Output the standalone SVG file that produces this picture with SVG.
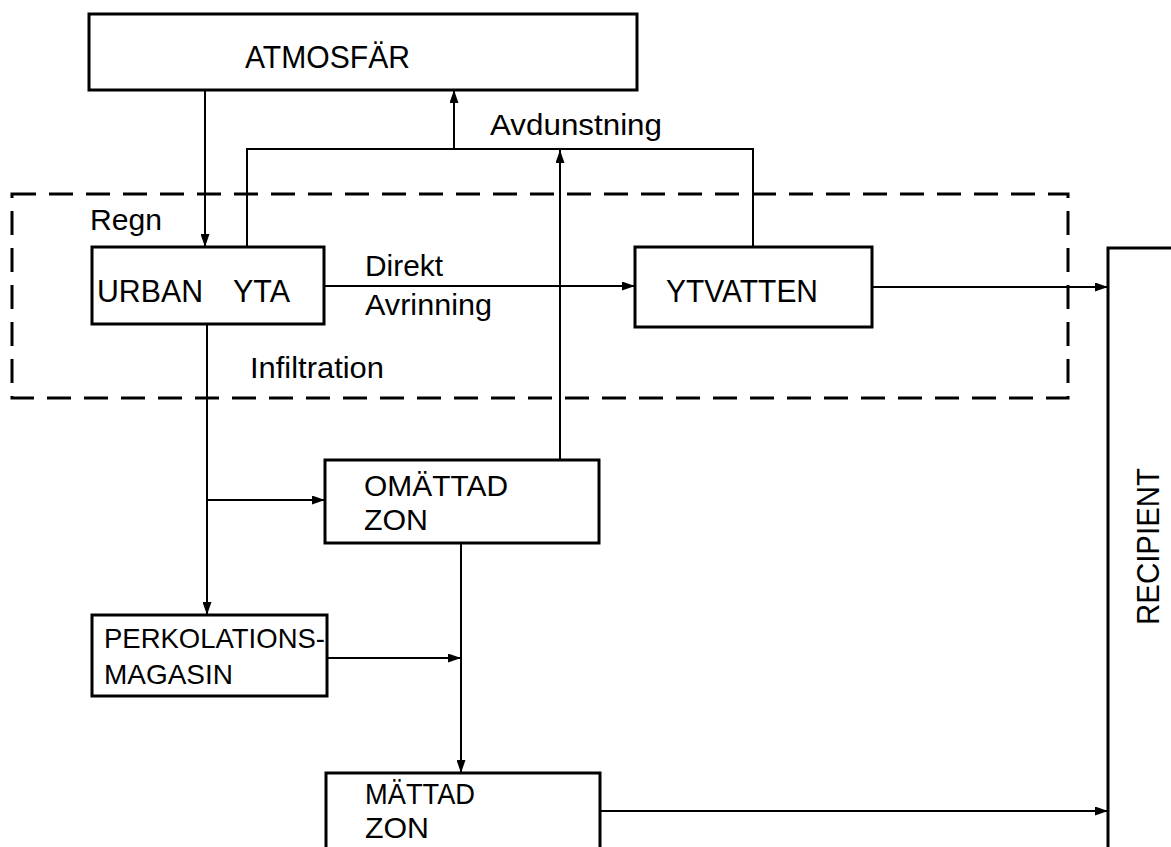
<svg xmlns="http://www.w3.org/2000/svg" width="1171" height="847" viewBox="0 0 1171 847">
<style>
.box{fill:#fff;stroke:#000;stroke-width:3}
.ln{fill:none;stroke:#000;stroke-width:2}
.dash{fill:none;stroke:#000;stroke-width:3;stroke-dasharray:24 13}
text{font-family:"Liberation Sans",Arial,sans-serif;font-size:31px;fill:#000}
.lc{font-size:30px}
.two{font-size:29px}
.sm{font-size:28px}
</style>
<defs>
<marker id="ah" markerUnits="userSpaceOnUse" markerWidth="13" markerHeight="9" refX="13" refY="4.5" orient="auto">
<path d="M0,0 L13,4.5 L0,9 z" fill="#000"/>
</marker>
</defs>
<rect width="1171" height="847" fill="#fff"/>
<rect id="system" class="dash" x="12" y="194" width="1056" height="204"/>
<g id="connectors">
<path class="ln" d="M205,90 V247" marker-end="url(#ah)"/>
<path class="ln" d="M247,247 V149 H753 V247"/>
<path class="ln" d="M454,149 V90" marker-end="url(#ah)"/>
<path class="ln" d="M560,460 V150" marker-end="url(#ah)"/>
<path class="ln" d="M324,286 H635" marker-end="url(#ah)"/>
<path class="ln" d="M872,287 H1108" marker-end="url(#ah)"/>
<path class="ln" d="M207,324 V615" marker-end="url(#ah)"/>
<path class="ln" d="M207,500 H325" marker-end="url(#ah)"/>
<path class="ln" d="M461,543 V773" marker-end="url(#ah)"/>
<path class="ln" d="M327,658 H461" marker-end="url(#ah)"/>
<path class="ln" d="M600,811 H1108" marker-end="url(#ah)"/>
</g>
<g id="labels">
<text class="lc" x="90" y="230" textLength="72" lengthAdjust="spacingAndGlyphs">Regn</text>
<text class="lc" x="365" y="276" textLength="78" lengthAdjust="spacingAndGlyphs">Direkt</text>
<text class="lc" x="365" y="315" textLength="127" lengthAdjust="spacingAndGlyphs">Avrinning</text>
<text class="lc" x="250" y="378" textLength="134" lengthAdjust="spacingAndGlyphs">Infiltration</text>
<text class="lc" x="490" y="135" textLength="172" lengthAdjust="spacingAndGlyphs">Avdunstning</text>
</g>
<g id="atmosfar">
<rect class="box" x="89" y="14" width="548" height="76"/>
<text x="245" y="68" textLength="165" lengthAdjust="spacingAndGlyphs">ATMOSFÄR</text>
</g>
<g id="urban-yta">
<rect class="box" x="92" y="247" width="232" height="77"/>
<text x="97" y="302"><tspan textLength="106" lengthAdjust="spacingAndGlyphs">URBAN</tspan><tspan x="233" textLength="57" lengthAdjust="spacingAndGlyphs">YTA</tspan></text>
</g>
<g id="ytvatten">
<rect class="box" x="635" y="247" width="237" height="80"/>
<text x="666" y="302" textLength="152" lengthAdjust="spacingAndGlyphs">YTVATTEN</text>
</g>
<g id="omattad-zon">
<rect class="box" x="325" y="460" width="274" height="83"/>
<text class="two" x="364" y="496" textLength="144" lengthAdjust="spacingAndGlyphs">OMÄTTAD</text>
<text class="two" x="364" y="530" textLength="64" lengthAdjust="spacingAndGlyphs">ZON</text>
</g>
<g id="perkolationsmagasin">
<rect class="box" x="92" y="615" width="235" height="81"/>
<text class="sm" x="104" y="648" textLength="221" lengthAdjust="spacingAndGlyphs">PERKOLATIONS-</text>
<text class="sm" x="104" y="684" textLength="129" lengthAdjust="spacingAndGlyphs">MAGASIN</text>
</g>
<g id="mattad-zon">
<path class="box" d="M326,860 V773 H600 V860"/>
<text class="two" x="365" y="804" textLength="110" lengthAdjust="spacingAndGlyphs">MÄTTAD</text>
<text class="two" x="365" y="838" textLength="64" lengthAdjust="spacingAndGlyphs">ZON</text>
</g>
<g id="recipient">
<path class="box" d="M1175,248 H1108 V860"/>
<text x="0" y="0" transform="translate(1159,625) rotate(-90)" textLength="157" lengthAdjust="spacingAndGlyphs">RECIPIENT</text>
</g>
</svg>
